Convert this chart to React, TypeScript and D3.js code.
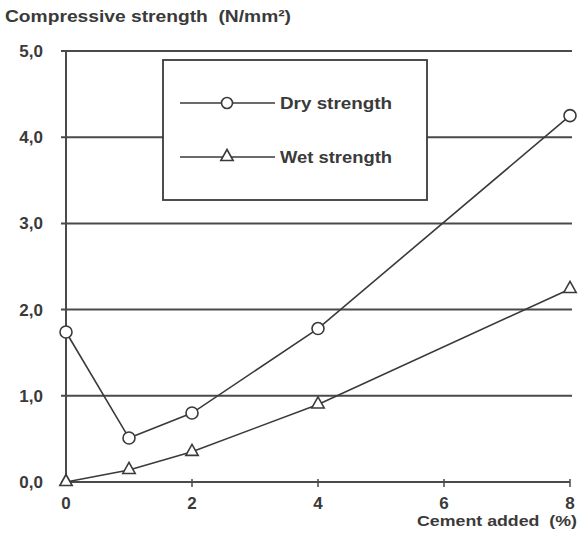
import React from "react";
import * as d3 from "d3";

const cementPct = [0, 1, 2, 4, 8];
const dryStrength = [1.74, 0.51, 0.8, 1.78, 4.25];
const wetStrength = [0.0, 0.14, 0.35, 0.9, 2.24];
const yTicks = [0, 1, 2, 3, 4, 5];
const xTicks = [0, 2, 4, 6, 8];
const seriesNames = ["Dry strength", "Wet strength"];

const W = 581;
const H = 545;
const INK = "#3a3a3a";
const FONT = "'Liberation Sans', Arial, sans-serif";

export default function App() {
  const x = d3.scaleLinear().domain([0, 8]).range([66, 570]);
  const y = d3.scaleLinear().domain([0, 5]).range([482, 51]);
  const line = d3
    .line<number>()
    .x((_, i) => x(cementPct[i]))
    .y((v) => y(v));

  const tri = (cx: number, cy: number, s = 6.5) =>
    `M${cx},${cy - s} L${cx + s * 0.95},${cy + s * 0.7} L${cx - s * 0.95},${cy + s * 0.7} Z`;

  const legend = { x0: 163, y0: 60, x1: 427, y1: 200 };
  const legendRows = [103, 157];

  return (
    <svg
      width={W}
      height={H}
      style={{ position: "absolute", left: 0, top: 0, background: "#fff" }}
      fontFamily={FONT}
    >
      <text
        x={5}
        y={22}
        fontSize={16}
        fontWeight="bold"
        fill={INK}
        textLength={286}
        lengthAdjust="spacingAndGlyphs"
        style={{ whiteSpace: "pre" }}
      >
        {"Compressive strength  (N/mm²)"}
      </text>

      {/* gridlines */}
      {yTicks.map((t) => (
        <g key={t}>
          <line x1={61} x2={t === 0 ? 570 : 572} y1={y(t)} y2={y(t)} stroke="#4a4a4a" strokeWidth={2} />
          <text
            x={43}
            y={y(t)}
            dy="0.35em"
            textAnchor="end"
            fontSize={17}
            fontWeight="bold"
            fill={INK}
          >
            {d3.format(".1f")(t).replace(".", ",")}
          </text>
        </g>
      ))}

      {/* y axis */}
      <line x1={x(0)} x2={x(0)} y1={y(5)} y2={y(0)} stroke="#4a4a4a" strokeWidth={2} />

      {/* x ticks */}
      {xTicks.map((t) => (
        <g key={t}>
          {t > 0 && (
            <line x1={x(t)} x2={x(t)} y1={y(0) - 3} y2={y(0) + 5} stroke="#4a4a4a" strokeWidth={1.5} />
          )}
          <text
            x={x(t)}
            y={503}
            dy="0.35em"
            textAnchor="middle"
            fontSize={17}
            fontWeight="bold"
            fill={INK}
          >
            {t}
          </text>
        </g>
      ))}
      <text
        x={417}
        y={526}
        fontSize={15}
        fontWeight="bold"
        fill={INK}
        textLength={160}
        lengthAdjust="spacingAndGlyphs"
        style={{ whiteSpace: "pre" }}
      >
        {"Cement added  (%)"}
      </text>

      {/* legend box */}
      <rect
        x={legend.x0}
        y={legend.y0}
        width={legend.x1 - legend.x0}
        height={legend.y1 - legend.y0}
        fill="#fff"
        stroke="#3a3a3a"
        strokeWidth={1.8}
      />
      {seriesNames.map((name, i) => {
        const ly = legendRows[i];
        return (
          <g key={name}>
            <line x1={180} x2={275} y1={ly} y2={ly} stroke={INK} strokeWidth={1.6} />
            {i === 0 ? (
              <circle cx={227} cy={ly} r={5.5} fill="#fff" stroke={INK} strokeWidth={1.6} />
            ) : (
              <path d={tri(227, ly - 1)} fill="#fff" stroke={INK} strokeWidth={1.6} />
            )}
            <text
              x={280}
              y={ly}
              dy="0.35em"
              fontSize={17}
              fontWeight="bold"
              fill={INK}
              textLength={112}
              lengthAdjust="spacingAndGlyphs"
            >
              {name}
            </text>
          </g>
        );
      })}

      {/* series lines */}
      <path d={line(dryStrength) ?? ""} fill="none" stroke={INK} strokeWidth={1.6} />
      <path d={line(wetStrength) ?? ""} fill="none" stroke={INK} strokeWidth={1.6} />

      {dryStrength.map((v, i) => (
        <circle
          key={"d" + i}
          cx={x(cementPct[i])}
          cy={y(v)}
          r={6}
          fill="#fff"
          stroke={INK}
          strokeWidth={1.6}
        />
      ))}
      {wetStrength.map((v, i) => (
        <path key={"w" + i} d={tri(x(cementPct[i]), y(v) - 1)} fill="#fff" stroke={INK} strokeWidth={1.6} />
      ))}
    </svg>
  );
}
